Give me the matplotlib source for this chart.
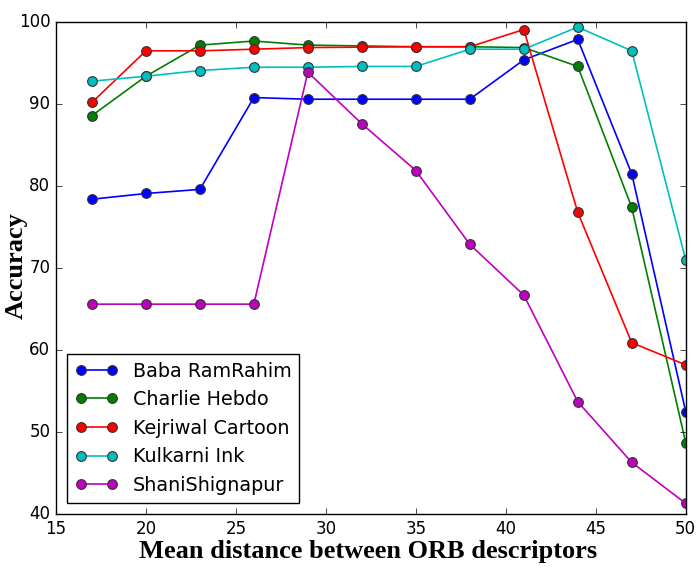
#!/usr/bin/env python3

import matplotlib
matplotlib.use('Agg')
import matplotlib.pyplot as plt

# Mean distance thresholds
dist = [17, 20, 23, 26, 29, 32, 35, 38, 41, 44, 47, 50]

# Accuracy per image set
baba = [78.4, 79.1, 79.6, 90.8, 90.6, 90.6, 90.6, 90.6, 95.4, 97.9, 81.5, 52.5]
charlie = [88.6, 93.4, 97.2, 97.7, 97.2, 97.1, 97.0, 97.0, 96.9, 94.6, 77.4, 48.7]
kejriwal = [90.2, 96.5, 96.5, 96.7, 96.9, 96.95, 97.0, 97.0, 99.1, 76.8, 60.9, 58.2]
kulkarni = [92.8, 93.4, 94.1, 94.5, 94.5, 94.6, 94.6, 96.7, 96.7, 99.4, 96.5, 71.0]
shani = [65.6, 65.6, 65.6, 65.6, 93.9, 87.6, 81.9, 72.9, 66.7, 53.7, 46.3, 41.3]

names = ['Baba RamRahim', 'Charlie Hebdo', 'Kejriwal Cartoon', 'Kulkarni Ink', 'ShaniShignapur']

if __name__ == "__main__":
    plt.style.use('classic')
    fig = plt.figure(figsize=(6.99, 5.68), dpi=100, facecolor='white')
    ax = fig.add_axes([0.080, 0.095, 0.901, 0.866])

    series = [baba, charlie, kejriwal, kulkarni, shani]
    colors = ['b', 'g', 'r', 'c', 'm']
    for vals, c, n in zip(series, colors, names):
        ax.plot(dist, vals, color=c, marker='o', markersize=7, linewidth=1.2,
                markeredgecolor='#333333', markeredgewidth=0.8, label=n)

    ax.set_xlim(15, 50)
    ax.set_ylim(40, 100)
    ax.set_xticks(range(15, 51, 5))
    ax.set_yticks(range(40, 101, 10))
    ax.tick_params(labelsize=12)

    ax.set_xlabel('Mean distance between ORB descriptors', family='Liberation Serif',
                  fontweight='bold', fontsize=19)
    ax.set_ylabel('Accuracy', family='Liberation Serif', fontweight='bold',
                  fontsize=19)
    ax.xaxis.set_label_coords(0.496, -0.052)
    ax.yaxis.set_label_coords(-0.045, 0.506)

    ax.legend(loc='lower left', prop={'size': 13.8}, numpoints=2,
              handlelength=2.2, borderaxespad=0.6)

    fig.savefig('out.png', dpi=100, facecolor='white')
